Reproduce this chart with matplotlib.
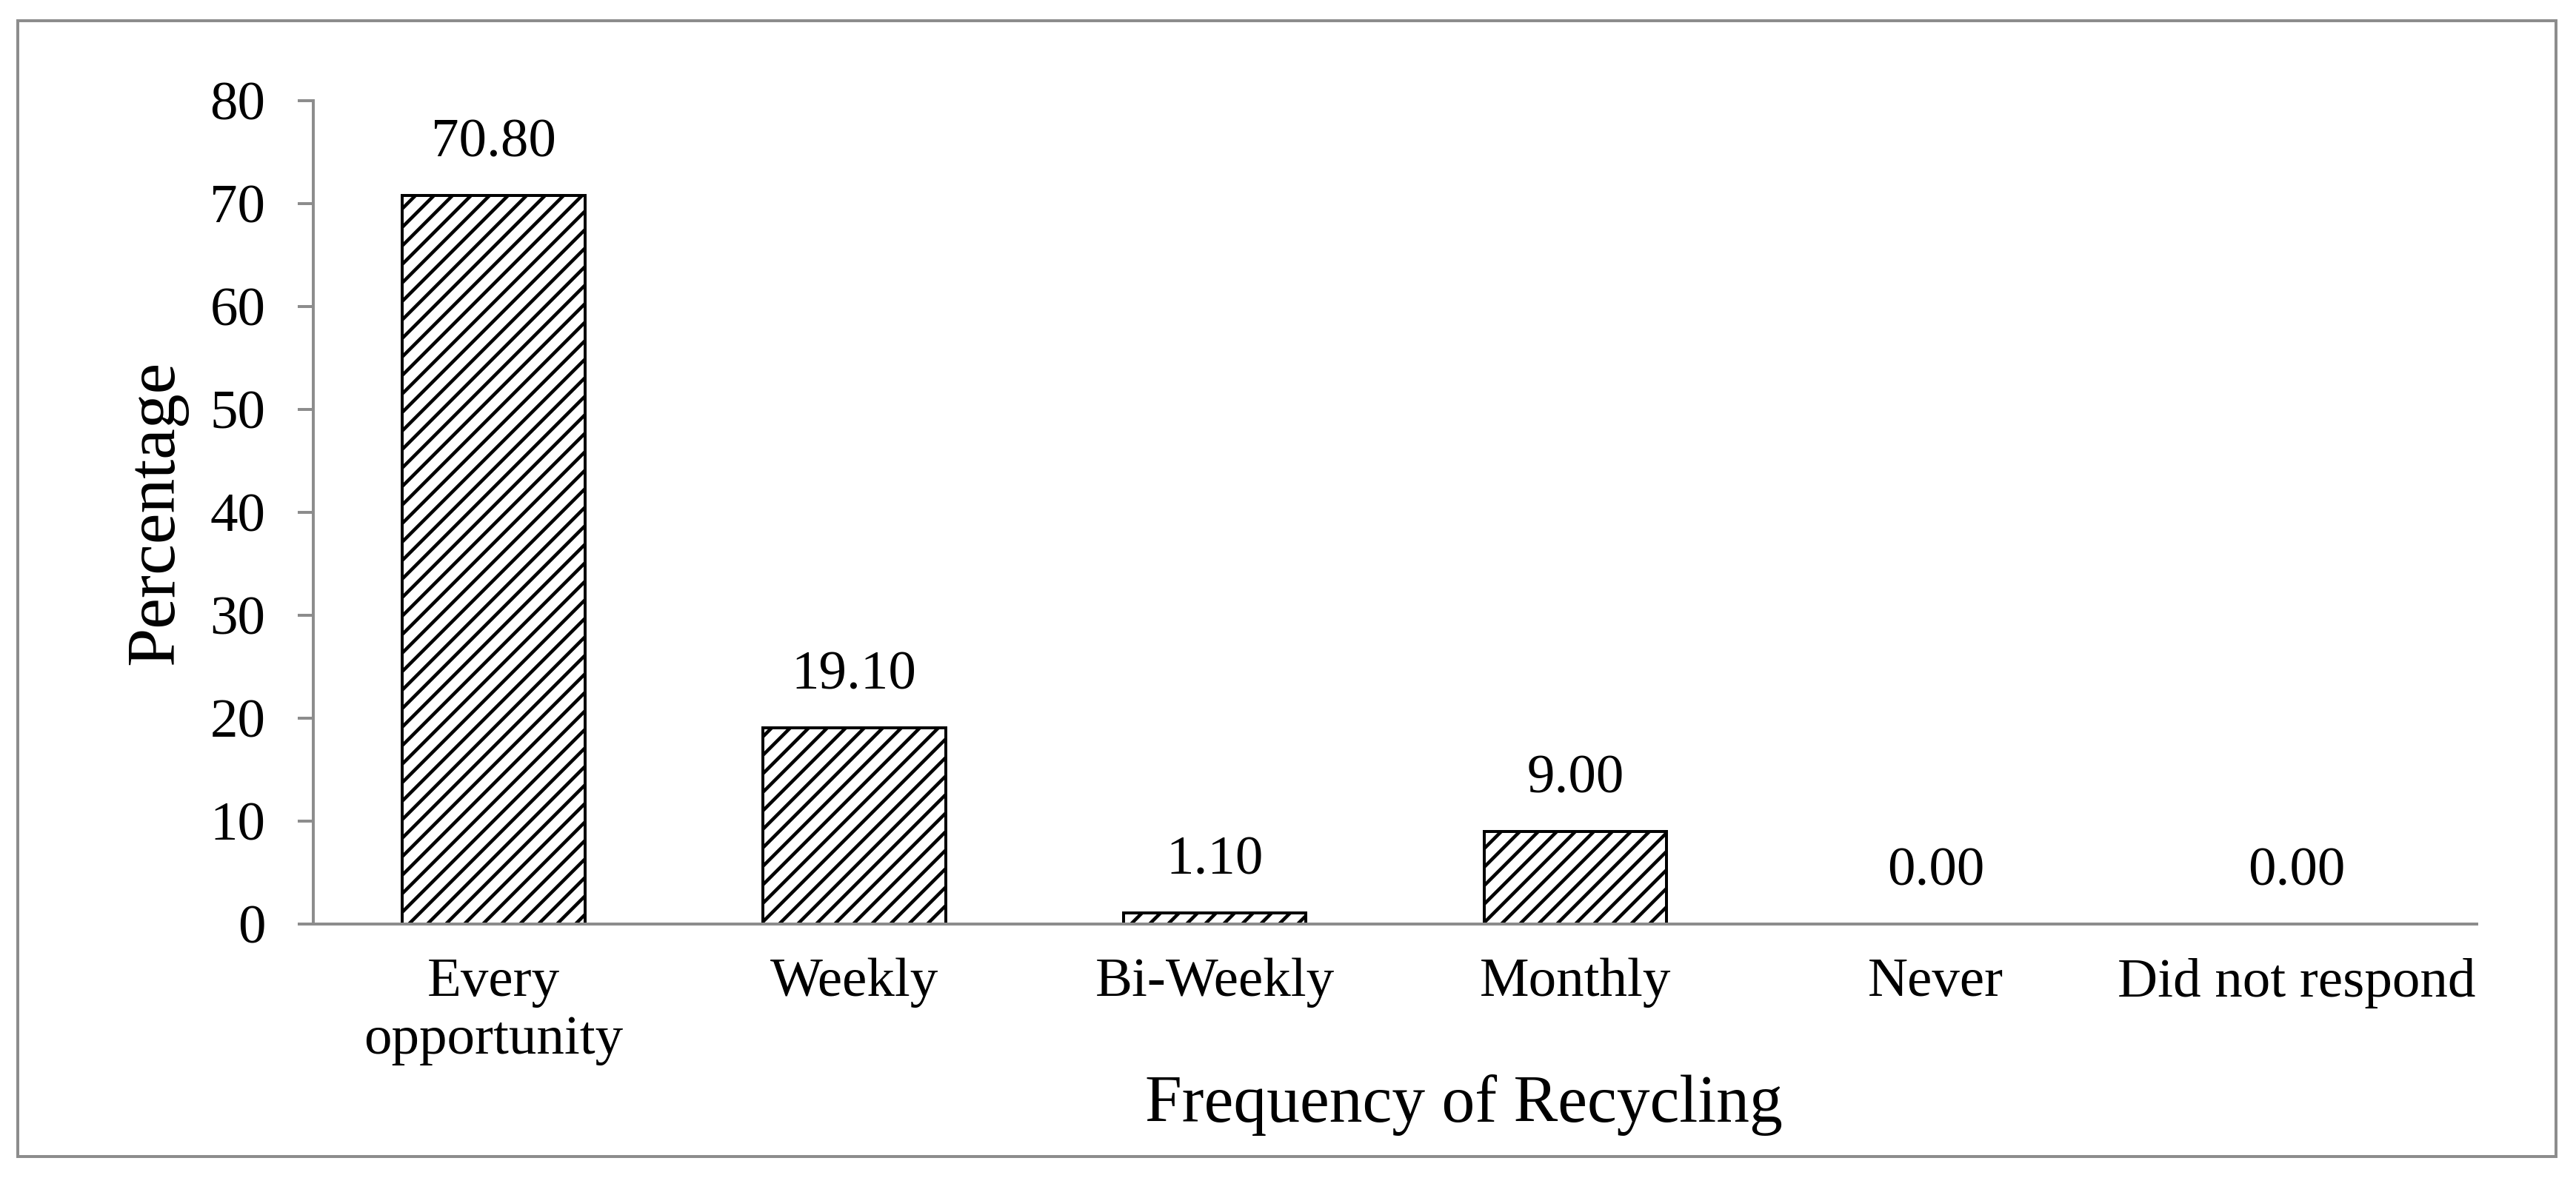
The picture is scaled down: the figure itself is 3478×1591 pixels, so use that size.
import numpy as np
import matplotlib
matplotlib.use("Agg")
import matplotlib.pyplot as plt
from matplotlib.patches import Rectangle

# data
categories = ["Every\nopportunity", "Weekly", "Bi-Weekly", "Monthly", "Never", "Did not respond"]
percentages = [70.80, 19.10, 1.10, 9.00, 0.00, 0.00]
y_ticks = [0, 10, 20, 30, 40, 50, 60, 70, 80]

gray = "#8c8c8c"
W, H, DPI = 3478, 1591, 150

plt.rcParams["font.family"] = ["Liberation Serif", "DejaVu Serif"]
plt.rcParams["hatch.linewidth"] = 2.2
plt.rcParams["hatch.color"] = "black"

fig = plt.figure(figsize=(W / DPI, H / DPI), dpi=DPI)
ax = fig.add_axes([423 / W, 1 - 1248 / H, (3344 - 423) / W, (1248 - 136) / H])

x = np.arange(len(categories))
bars = ax.bar(x, percentages, width=0.507, color="white", edgecolor="black",
              linewidth=1.9, hatch="//", zorder=3)
# empty categories show no outline in the original
for b, v in zip(bars, percentages):
    if v == 0:
        b.set_visible(False)

# value labels above bars
for xi, v in zip(x, percentages):
    ax.annotate(f"{v:.2f}", (xi, v), xytext=(0, 25), textcoords="offset points",
                ha="center", va="baseline", fontsize=36)

ax.set_xlim(-0.5, len(categories) - 0.5)
ax.set_ylim(0, 80)
ax.set_yticks(y_ticks)
ax.set_xticks(x)
ax.set_xticklabels(categories, fontsize=36, linespacing=1.2)
ax.tick_params(axis="x", length=0, pad=22)
ax.tick_params(axis="y", length=10, width=1.9, color=gray, pad=21, labelsize=36)

for side in ["top", "right"]:
    ax.spines[side].set_visible(False)
for side in ["left", "bottom"]:
    ax.spines[side].set_color(gray)
    ax.spines[side].set_linewidth(1.9)
ax.spines["bottom"].set_zorder(4)

ax.set_ylabel("Percentage", fontsize=45)
ax.yaxis.set_label_coords((253 - 423) / (3344 - 423), 0.5)
ax.set_xlabel("Frequency of Recycling", fontsize=43, va="baseline")
ax.xaxis.set_label_coords(0.5317, (1248 - 1515) / (1248 - 136))

# outer frame around the whole chart
fig.patches.append(Rectangle((24 / W, 1 - 1562 / H), (3451 - 24) / W, (1562 - 28) / H,
                             transform=fig.transFigure, fill=False,
                             edgecolor=gray, linewidth=1.9))

fig.savefig("out.png", dpi=DPI, facecolor="white")
